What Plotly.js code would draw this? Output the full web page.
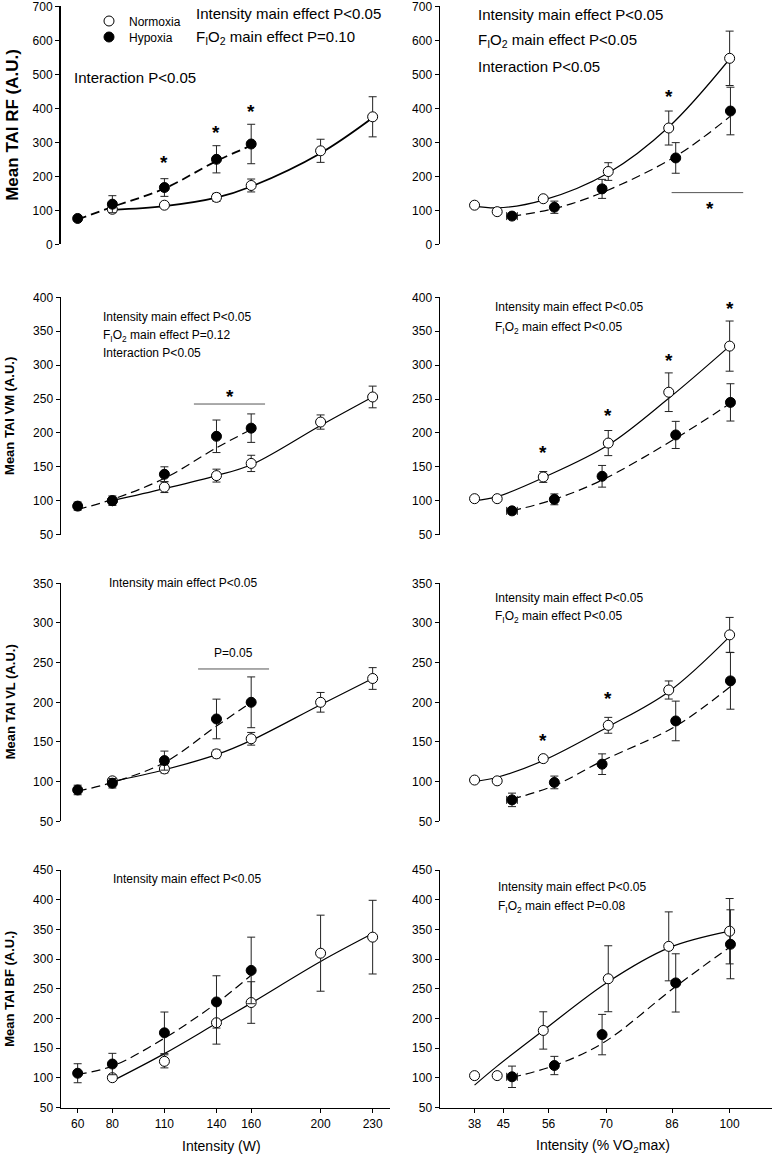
<!DOCTYPE html>
<html><head><meta charset="utf-8">
<script src="https://cdn.plot.ly/plotly-3.0.1.min.js"></script>
<style>html,body{margin:0;padding:0;background:#fff}#chart{width:773px;height:1158px}</style>
</head><body><div id="chart"></div>
<script>
// ---------- x values / ticks ----------
const wattNorm = [80, 110, 140, 160, 200, 230];
const wattHyp = [60, 80, 110, 140, 160];
const wattTicks = [60, 80, 110, 140, 160, 200, 230];
const vo2Norm = [38, 43.5, 54.7, 70.5, 85.2, 100];
const vo2Hyp = [47.1, 57.4, 69, 86.9, 100.2];
const vo2HypXErr = [1.3, 0, 0, 0, 0];
const vo2Ticks = [38, 45, 56, 70, 86, 100];

// ---------- RF ----------
const rfWNorm = [103, 115, 138, 173, 275, 375];
const rfWNormErr = [8, 5, 12, 19, 34, 59];
const rfWHyp = [76, 118, 167, 250, 295];
const rfWHypErr = [5, 25, 26, 40, 58];
const rfWNormFit = [101, 112, 137, 170, 268, 372];
const rfWHypFit = [73, 110, 164, 245, 290];

const rfVNorm = [115, 96, 134, 214, 342, 547];
const rfVNormErr = [0, 0, 6, 26, 50, 80];
const rfVHyp = [83, 109, 163, 254, 392];
const rfVHypErr = [5, 18, 28, 45, 70];
const rfVNormFit = [113, 107, 130, 210, 345, 545];
const rfVHypFit = [83, 105, 152, 259, 377];

// ---------- VM ----------
const vmWNorm = [100, 120, 137, 155, 216, 253];
const vmWNormErr = [5, 8, 9.5, 12, 10.5, 16];
const vmWHyp = [92, 100, 139, 195, 207];
const vmWHypErr = [6, 7, 11, 24, 21];
const vmWNormFit = [100, 117.7, 137, 153, 211, 253];
const vmWHypFit = [87, 102, 133, 178, 205];

const vmVNorm = [103, 103, 135, 185, 260, 328];
const vmVNormErr = [0, 0, 8, 18.5, 28.5, 37];
const vmVHyp = [85, 102, 136, 197, 245];
const vmVHypErr = [4, 8, 16, 20, 27.5];
const vmVNormFit = [100, 106, 134, 182, 251, 328];
const vmVHypFit = [85, 102, 130.5, 192, 243.6];

// ---------- VL ----------
const vlWNorm = [101, 116, 135, 154, 200, 230];
const vlWNormErr = [4, 5, 5, 8, 12.4, 13.7];
const vlWHyp = [89.5, 98, 126.5, 179, 200];
const vlWHypErr = [6, 6, 12, 25, 32];
const vlWNormFit = [100, 115, 134, 152, 197, 230];
const vlWHypFit = [88, 99, 124, 170, 200];

const vlVNorm = [102, 101, 129, 171, 215.5, 285];
const vlVNormErr = [0, 0, 3, 10, 11.4, 22];
const vlVHyp = [77, 99, 122, 176.5, 227];
const vlVHypErr = [8.5, 8, 13, 25, 35.7];
const vlVNormFit = [100, 105.5, 126.5, 169.3, 213.4, 282.8];
const vlVHypFit = [78, 95, 126, 170, 220];

// ---------- BF ----------
const bfWNorm = [100.5, 128, 193, 227, 310, 337];
const bfWNormErr = [4, 11, 36, 35, 64, 62];
const bfWHyp = [108, 123.5, 176, 228, 281];
const bfWHypErr = [16, 18, 35, 44, 56];
const bfWNormFit = [95, 141, 192, 226, 296, 343];
const bfWHypFit = [106, 120, 167, 226, 273];

const bfVNorm = [104, 104, 180, 267, 321.5, 347];
const bfVNormErr = [0, 0, 31.4, 55.5, 58, 55];
const bfVHyp = [102, 121, 173, 260, 325];
const bfVHypErr = [18, 15.4, 34, 49, 58];
const bfVNormFit = [88, 120, 180, 262, 319, 347];
const bfVHypFit = [101, 121, 158, 254, 321];

// ---------- labels ----------
const muscleTitles = ['Mean TAI RF (A.U.)', 'Mean TAI VM (A.U.)', 'Mean TAI VL (A.U.)', 'Mean TAI BF (A.U.)'];
const seriesNames = ['Normoxia', 'Hypoxia'];

// ---------- build ----------
const FONT = 'Arial, "Liberation Sans", sans-serif';
const panels = [
  {xn: wattNorm, xh: wattHyp, n: rfWNorm, ne: rfWNormErr, h: rfWHyp, he: rfWHypErr, nf: rfWNormFit, hf: rfWHypFit},
  {xn: vo2Norm, xh: vo2Hyp, n: rfVNorm, ne: rfVNormErr, h: rfVHyp, he: rfVHypErr, nf: rfVNormFit, hf: rfVHypFit},
  {xn: wattNorm, xh: wattHyp, n: vmWNorm, ne: vmWNormErr, h: vmWHyp, he: vmWHypErr, nf: vmWNormFit, hf: vmWHypFit},
  {xn: vo2Norm, xh: vo2Hyp, n: vmVNorm, ne: vmVNormErr, h: vmVHyp, he: vmVHypErr, nf: vmVNormFit, hf: vmVHypFit},
  {xn: wattNorm, xh: wattHyp, n: vlWNorm, ne: vlWNormErr, h: vlWHyp, he: vlWHypErr, nf: vlWNormFit, hf: vlWHypFit},
  {xn: vo2Norm, xh: vo2Hyp, n: vlVNorm, ne: vlVNormErr, h: vlVHyp, he: vlVHypErr, nf: vlVNormFit, hf: vlVHypFit},
  {xn: wattNorm, xh: wattHyp, n: bfWNorm, ne: bfWNormErr, h: bfWHyp, he: bfWHypErr, nf: bfWNormFit, hf: bfWHypFit},
  {xn: vo2Norm, xh: vo2Hyp, n: bfVNorm, ne: bfVNormErr, h: bfVHyp, he: bfVHypErr, nf: bfVNormFit, hf: bfVHypFit}
];

const W = 773, H = 1158;
const xDomL = [61 / W, 390 / W], xDomR = [440 / W, 772 / W];
const rowPx = [[6.3, 244.3], [297.3, 534.6], [583.3, 821.3], [870, 1107.7]];
const yRanges = [[0, 700], [50, 400], [50, 350], [50, 450]];
const yDticks = [100, 50, 50, 50];

const data = [];
const layout = {
  width: W, height: H, margin: {l: 0, r: 0, t: 0, b: 0},
  paper_bgcolor: '#fff', plot_bgcolor: 'rgba(0,0,0,0)',
  font: {family: FONT, size: 12, color: '#000'},
  showlegend: true,
  legend: {x: 89 / W, y: 1 - 21 / H, xanchor: 'left', yanchor: 'middle', bgcolor: 'rgba(0,0,0,0)', font: {size: 12, family: FONT}},
  legend2: {x: 89 / W, y: 1 - 37 / H, xanchor: 'left', yanchor: 'middle', bgcolor: 'rgba(0,0,0,0)', font: {size: 12, family: FONT}},
  annotations: [], shapes: []
};

panels.forEach((p, i) => {
  const row = Math.floor(i / 2), col = i % 2;
  const sx = i === 0 ? '' : String(i + 1);
  const xa = 'x' + sx, ya = 'y' + sx;
  const thick = i === 0 ? 1.8 : 1.2;
  const isV = col === 1;
  data.push({x: p.xn, y: p.nf, xaxis: xa, yaxis: ya, mode: 'lines', showlegend: false, hoverinfo: 'skip',
    line: {color: '#000', width: thick, shape: 'spline', smoothing: 1}});
  data.push({x: p.xh, y: p.hf, xaxis: xa, yaxis: ya, mode: 'lines', showlegend: false, hoverinfo: 'skip',
    line: {color: '#000', width: thick, dash: '9px,5px', shape: 'spline', smoothing: 1}});
  data.push({x: p.xn, y: p.n, xaxis: xa, yaxis: ya, mode: 'markers', name: seriesNames[0],
    showlegend: i === 0, legend: 'legend',
    marker: {symbol: 'circle', size: 10, color: '#fff', line: {color: '#000', width: 1}},
    error_y: {type: 'data', array: p.ne, visible: true, color: '#222', thickness: 1, width: 4}});
  const hyp = {x: p.xh, y: p.h, xaxis: xa, yaxis: ya, mode: 'markers', name: seriesNames[1],
    showlegend: i === 0, legend: 'legend2',
    marker: {symbol: 'circle', size: 10, color: '#000', line: {color: '#000', width: 1}},
    error_y: {type: 'data', array: p.he, visible: true, color: '#222', thickness: 1, width: 4}};
  if (isV) hyp.error_x = {type: 'data', array: vo2HypXErr, visible: true, color: '#222', thickness: 1, width: 4};
  data.push(hyp);

  const bottom = row === 3;
  layout['xaxis' + sx] = {
    domain: isV ? xDomR : xDomL, anchor: ya,
    range: isV ? [29.6, 110.3] : [50.4, 240],
    visible: bottom, showgrid: false, zeroline: false,
    showline: true, linecolor: '#000', linewidth: 1.5,
    ticks: 'outside', ticklen: 4, tickwidth: 1, tickcolor: '#000',
    tickmode: 'array', tickvals: isV ? vo2Ticks : wattTicks,
    tickfont: {size: 12, family: FONT}
  };
  layout['yaxis' + sx] = {
    domain: [1 - rowPx[row][1] / H, 1 - rowPx[row][0] / H], anchor: xa,
    range: yRanges[row], dtick: yDticks[row], tick0: 0,
    showgrid: false, zeroline: false,
    showline: true, linecolor: '#000', linewidth: i === 0 ? 2 : 1.5,
    ticks: 'outside', ticklen: 4, tickwidth: 1, tickcolor: '#000',
    ticklabeloverflow: 'allow',
    tickfont: {size: 12, family: FONT}
  };
  if (col === 0) {
    layout.annotations.push({xref: 'paper', yref: ya + ' domain', x: (row === 0 ? 12.5 : 10) / W, y: 0.5,
      text: '<b>' + muscleTitles[row] + '</b>', textangle: -90, showarrow: false,
      xanchor: 'center', yanchor: 'middle', font: {size: row === 0 ? 17 : 13, family: FONT}});
  }
});

// statistical notes
function note(panel, x, y, text, size) {
  const sx = panel === 1 ? '' : String(panel);
  layout.annotations.push({xref: 'x' + sx, yref: 'y' + sx, x: x, y: y, text: text, showarrow: false,
    xanchor: 'left', yanchor: 'middle', font: {size: size, family: FONT}});
}
function star(panel, x, y, text) {
  const sx = panel === 1 ? '' : String(panel);
  layout.annotations.push({xref: 'x' + sx, yref: 'y' + sx, x: x, y: y, text: text || '<b>*</b>', showarrow: false,
    xanchor: 'center', yanchor: 'middle', font: {size: text ? 12 : 19, family: FONT}});
}
function bar(panel, x0, x1, y) {
  const sx = panel === 1 ? '' : String(panel);
  layout.shapes.push({type: 'line', xref: 'x' + sx, yref: 'y' + sx, x0: x0, x1: x1, y0: y, y1: y,
    line: {color: '#555', width: 1}});
}
const FIO2 = 'F<sub>I</sub>O<sub>2</sub> main effect ';
const INT = 'Intensity main effect P<0.05';

note(1, 127, 680, INT, 15); note(1, 127, 609, FIO2 + 'P=0.10', 15); note(1, 56.5, 491, 'Interaction P<0.05', 15);
star(1, 110, 240); star(1, 140, 328); star(1, 160, 392);

note(2, 38.3, 675, INT, 15); note(2, 38.3, 600, FIO2 + 'P<0.05', 15); note(2, 38.3, 524, 'Interaction P<0.05', 15);
star(2, 85.2, 434); bar(2, 85.9, 103.3, 152); star(2, 95.2, 105);

note(3, 73.4, 371.5, INT, 12); note(3, 73.4, 343, FIO2 + 'P=0.12', 12); note(3, 73.4, 318, 'Interaction P<0.05', 12);
bar(3, 127, 168, 242.6); star(3, 147.7, 254);

note(4, 42.5, 385, INT, 12); note(4, 42.5, 355, FIO2 + 'P<0.05', 12);
star(4, 54.7, 171); star(4, 70.5, 226); star(4, 85.2, 307); star(4, 100, 383);

note(5, 77, 350, INT, 12);
bar(5, 129.4, 170.3, 242); star(5, 149.6, 262, 'P=0.05');

note(6, 42.5, 332, INT, 12); note(6, 42.5, 307, FIO2 + 'P<0.05', 12);
star(6, 54.7, 152); star(6, 70.5, 205);

note(7, 79, 435, INT, 12);

note(8, 43.2, 421, INT, 12); note(8, 43.2, 388, FIO2 + 'P=0.08', 12);

// x-axis titles
layout.annotations.push({xref: 'paper', yref: 'paper', x: 221.7 / W, y: 1 - 1146 / H, text: 'Intensity (W)',
  showarrow: false, xanchor: 'center', yanchor: 'middle', font: {size: 14, family: FONT}});
layout.annotations.push({xref: 'paper', yref: 'paper', x: 603 / W, y: 1 - 1146 / H, text: 'Intensity (% VO<sub>2</sub>max)',
  showarrow: false, xanchor: 'center', yanchor: 'middle', font: {size: 14, family: FONT}});

// Plotly leaves empty baseline-reset tspans after <sub>; give them a hair space so they have a size
function fillEmptyTspans() {
  document.querySelectorAll('#chart text tspan').forEach(t => {
    if (t.childNodes.length === 0) t.textContent = '\u200A';
  });
}

Plotly.newPlot('chart', data, layout, {staticPlot: true, displayModeBar: false}).then(fillEmptyTspans);
</script></body></html>
